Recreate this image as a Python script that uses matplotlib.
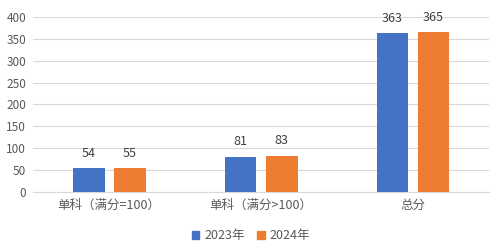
import numpy as np
import matplotlib.pyplot as plt
from matplotlib.patches import Patch

plt.rcParams['font.family'] = ['Noto Sans CJK SC', 'DejaVu Sans']

categories = ['单科（满分=100）', '单科（满分>100）', '总分']
series_names = ['2023年', '2024年']
values_2023 = [54, 81, 363]
values_2024 = [55, 83, 365]
colors = ['#4472C4', '#ED7D31']
text_color = '#595959'

fig = plt.figure(figsize=(5.02, 2.52), dpi=100)
ax = fig.add_axes([0.066, 0.238, 0.908, 0.695])

x = np.arange(len(categories))
w = 0.21
off = 0.135

b1 = ax.bar(x - off, values_2023, w, color=colors[0], zorder=3)
b2 = ax.bar(x + off, values_2024, w, color=colors[1], zorder=3)

for bars in (b1, b2):
    for r in bars:
        ax.annotate(str(int(r.get_height())), (r.get_x() + r.get_width() / 2, r.get_height()),
                    xytext=(0, 6), textcoords='offset points', ha='center', va='bottom',
                    fontsize=9, color='#404040')

ax.set_xlim(-0.5, 2.5)
ax.set_ylim(0, 400)
ax.set_yticks(range(0, 401, 50))
ax.set_xticks(x)
ax.set_xticklabels(categories)
ax.grid(axis='y', color='#D9D9D9', linewidth=0.8, zorder=0)
for s in ['top', 'right', 'left']:
    ax.spines[s].set_visible(False)
ax.spines['bottom'].set_color('#D9D9D9')
ax.tick_params(axis='both', length=0, labelsize=8.5, colors=text_color)
ax.tick_params(axis='x', pad=5, labelsize=9)
ax.tick_params(axis='y', pad=5)

handles = [Patch(color=c) for c in colors]
fig.legend(handles, series_names, loc='center', bbox_to_anchor=(0.5, 0.065), ncol=2,
           frameon=False, fontsize=9, labelcolor=text_color, handlelength=0.6,
           handleheight=0.6, handletextpad=0.4, columnspacing=1.0)

fig.savefig('out.png', dpi=100)
